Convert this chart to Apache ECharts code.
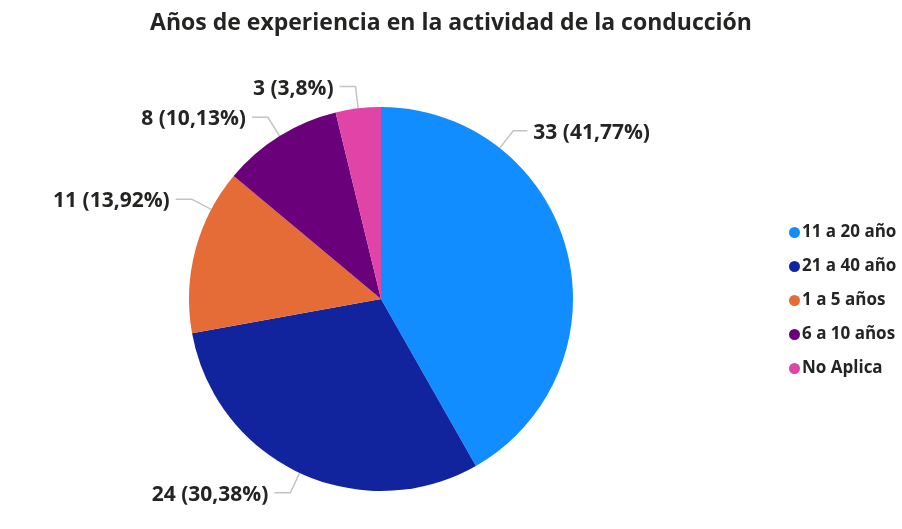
<!DOCTYPE html>
<html><head><meta charset="utf-8">
<script src="https://cdn.jsdelivr.net/npm/echarts@6/dist/echarts.min.js"></script>
<style>html,body{margin:0;padding:0;background:#fff}#c{width:902px;height:529px}</style>
</head><body><div id="c"></div>
<script>
const categories = ["11 a 20 años", "21 a 40 años", "1 a 5 años", "6 a 10 años", "No Aplica"];
const values = [33, 24, 11, 8, 3];
const colors = ["#118DFF", "#12239E", "#E66C37", "#6B007B", "#E044A7"];
const titleText = "Años de experiencia en la actividad de la conducción";

// layout / style config
const CX = 381, CY = 299, R = 192;
const anchorShift = [-37, 0, 13, 0, 0]; // degrees, label anchor shift vs slice mid-angle (Power BI style)

const total = values.reduce((a, b) => a + b, 0);
function fmtPct(v) {
  let s = (v / total * 100).toFixed(2);
  s = s.replace(/\.?0+$/, "");
  return s.replace(".", ",");
}
const midAngles = [];
{ let acc = 0; values.forEach(v => { midAngles.push((acc + v / 2) / total * 360); acc += v; }); }

const chart = echarts.init(document.getElementById('c'), null, {renderer: 'canvas'});
chart.setOption({
  animation: false,
  title: {
    text: titleText, left: 'center', top: 7,
    textStyle: {fontFamily: 'Open Sans', fontWeight: 'bold', fontSize: 23, color: '#252423'}
  },
  legend: {
    orient: 'vertical', left: 784, top: 216, itemGap: 11,
    icon: 'circle', itemWidth: 11, itemHeight: 11,
    textStyle: {fontFamily: 'Open Sans', fontWeight: 'bold', fontSize: 17, color: '#252423',
      lineHeight: 23, width: 98, overflow: 'truncate', ellipsis: '', padding: [0, 0, 0, -3]},
    data: categories
  },
  series: [{
    type: 'pie',
    center: [CX, CY], radius: R,
    startAngle: 90, clockwise: true,
    color: colors,
    label: {
      show: true,
      formatter: p => p.value + ' (' + fmtPct(p.value) + '%)',
      fontFamily: 'Open Sans', fontWeight: 'bold', fontSize: 21, color: '#252423'
    },
    labelLine: {show: true, length: 20, length2: 14, lineStyle: {color: '#c4c4c4', width: 1.5}},
    labelLayout: function (p) {
      const i = p.dataIndex;
      const a = (midAngles[i] + anchorShift[i]) * Math.PI / 180;
      const sx = Math.sin(a), sy = -Math.cos(a);
      const e = [CX + R * sx, CY + R * sy];
      const m = [CX + (R + 22) * sx, CY + (R + 22) * sy];
      const right = sx >= 0;
      const h = [m[0] + (right ? 14 : -16), m[1]];
      return {
        x: h[0] + (right ? 6 : -6), y: h[1] + 2,
        align: right ? 'left' : 'right', verticalAlign: 'middle',
        labelLinePoints: [e, m, h]
      };
    },
    itemStyle: {borderWidth: 0},
    data: categories.map((c, i) => ({name: c, value: values[i]}))
  }]
});
</script></body></html>
